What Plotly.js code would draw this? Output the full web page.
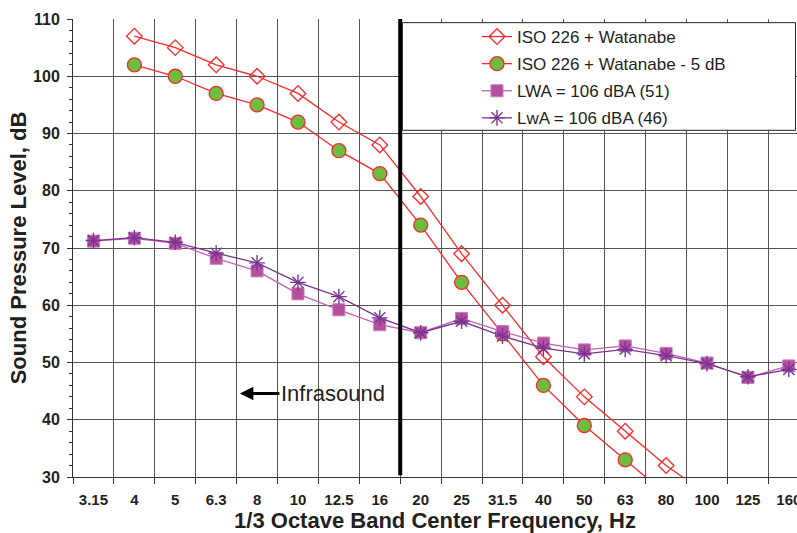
<!DOCTYPE html>
<html>
<head>
<meta charset="utf-8">
<script src="https://cdn.plot.ly/plotly-3.0.1.min.js"></script>
<style>html,body{margin:0;padding:0;background:#fff;}#chart{width:797px;height:533px;}</style>
</head>
<body>
<div id="chart"></div>
<script>
const categories = ["3.15","4","5","6.3","8","10","12.5","16","20","25","31.5","40","50","63","80","100","125","160"];
const isoWatanabe = [null,107,105,102,100,97,92,88,79,69,60,51,44,38,32,27,null,null];
const isoWatanabeMinus5 = [null,102,100,97,95,92,87,83,74,64,55,46,39,33,27,null,null,null];
const lwa51 = [71.2,71.7,70.8,68.2,66.0,62.0,59.2,56.6,55.2,57.7,55.4,53.4,52.2,52.9,51.6,49.9,47.4,49.4];
const lwa46 = [71.3,71.8,71.0,69.1,67.4,64.0,61.5,57.8,55.2,57.2,54.6,52.5,51.5,52.3,51.2,49.8,47.5,48.8];
const seriesNames = ["ISO 226 + Watanabe","ISO 226 + Watanabe - 5 dB","LWA = 106 dBA (51)","LwA = 106 dBA (46)"];

const red = "#f7292b";
const fam = "Liberation Sans, Arial, sans-serif";
const traces = [
  {x: categories, y: isoWatanabe, name: seriesNames[0], mode: "lines+markers",
   line: {color: red, width: 1.3},
   marker: {symbol: "diamond-open", size: 12, color: red, line: {color: red, width: 1.3}}, legendgroup: "a"},
  {x: categories, y: isoWatanabeMinus5, name: seriesNames[1], mode: "lines+markers",
   line: {color: red, width: 1.3},
   marker: {symbol: "circle", size: 14, color: "#6cbd40", line: {color: red, width: 1.3}}, legendgroup: "b"},
  {x: categories, y: lwa51, name: seriesNames[2], mode: "lines+markers",
   line: {color: "#c460b4", width: 1.3},
   marker: {symbol: "square", size: 12, color: "#b5509f", line: {color: "#c97abd", width: 1}}, legendgroup: "c"},
  {x: categories, y: lwa46, name: seriesNames[3], mode: "lines+markers",
   line: {color: "#7a3592", width: 1.3},
   marker: {symbol: "asterisk-open", size: 13, color: "#7a3592", line: {color: "#7a3592", width: 1.4}}, legendgroup: "d"}
];

const tickFont = {family: fam, size: 16, color: "#231f20", weight: "bold"};
const xTickFont = {family: fam, size: 15, color: "#231f20", weight: "bold"};
const titleFont = {family: fam, size: 22, color: "#231f20", weight: "bold"};
const layout = {
  width: 797, height: 533,
  margin: {l: 73, r: 0, t: 19, b: 56},
  paper_bgcolor: "#fff", plot_bgcolor: "#fff",
  showlegend: true,
  legend: {x: 0.558, y: 1.0, xanchor: "left", yanchor: "top", bgcolor: "rgba(0,0,0,0)",
           borderwidth: 0, traceorder: "grouped", tracegroupgap: 2,
           font: {family: fam, size: 17, color: "#231f20"}},
  xaxis: {type: "category", range: [-0.5, 17.2], tickson: "boundaries", ticks: "outside", ticklen: 6,
          tickcolor: "#333", showgrid: true, gridcolor: "#555", gridwidth: 1,
          showline: true, linecolor: "#333", linewidth: 1, tickfont: xTickFont, ticklabelstandoff: 9,
          title: {text: "1/3 Octave Band Center Frequency, Hz", standoff: 3, font: titleFont},
          fixedrange: true, zeroline: false},
  yaxis: {range: [30, 110], dtick: 10, ticks: "outside", ticklen: 5, tickcolor: "#333",
          minor: {dtick: 2, ticks: "outside", ticklen: 3, tickcolor: "#333", showgrid: false},
          showgrid: true, gridcolor: "#555", gridwidth: 1, showline: true, linecolor: "#333", linewidth: 1,
          tickfont: tickFont, ticklabelstandoff: 4,
          title: {text: "Sound Pressure Level, dB", standoff: 0, font: titleFont},
          fixedrange: true, zeroline: false},
  shapes: [
    {type: "line", xref: "x", yref: "y", x0: 7.5, x1: 7.5, y0: 30.3, y1: 110, line: {color: "#000", width: 4}},
    {type: "rect", xref: "paper", yref: "paper", x0: 0.455, x1: 0.998, y0: 0.757, y1: 0.992,
     fillcolor: "#fff", line: {color: "#222", width: 1}, layer: "above"}
  ],
  annotations: [
    {xref: "x", yref: "y", x: 3.58, y: 44.6, ax: 93, ay: 0, text: "Infrasound", showarrow: true,
     arrowhead: 2, arrowsize: 0.9, arrowwidth: 3, arrowcolor: "#000",
     font: {family: fam, size: 22, color: "#231f20"}}
  ]
};

Plotly.newPlot("chart", traces, layout, {displayModeBar: false, staticPlot: true});
</script>
</body>
</html>
